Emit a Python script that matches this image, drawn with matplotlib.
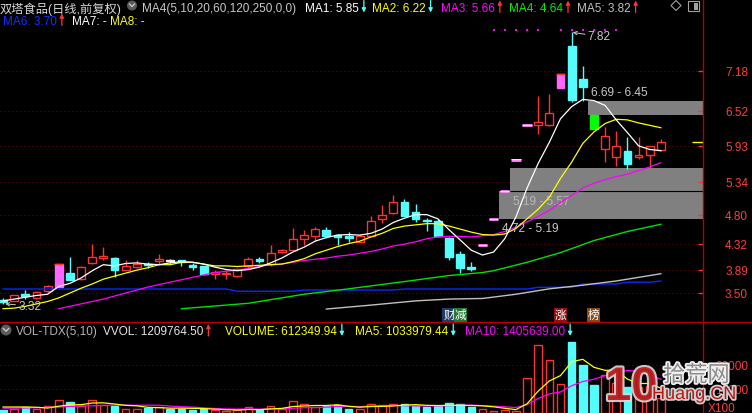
import numpy as np
import matplotlib
matplotlib.use("Agg")
import matplotlib.pyplot as plt
import matplotlib.transforms as mtrans
import matplotlib.patheffects as pe
from matplotlib.patches import Rectangle, Circle, Polygon

plt.rcParams['font.family'] = ['Liberation Sans', 'Noto Sans CJK SC', 'DejaVu Sans']

# ----------------------------- data -----------------------------
days = list(range(1, 61))
opens = [3.37, 3.37, 3.48, 3.42, 3.54, 3.60, 3.84, 3.73, 3.99, 4.08,
         4.08, 3.89, 3.93, 3.98, 4.03, 4.04, 4.04, 3.95, 3.94, 3.82,
         3.81, 3.79, 3.95, 4.06, 3.98, 4.19, 4.22, 4.39, 4.45, 4.55,
         4.45, 4.43, 4.35, 4.45, 4.72, 4.82, 5.01, 4.85, 4.71, 4.70,
         4.42, 4.15, 3.93, 4.29, 4.72, 5.19, 5.71, 6.28, 6.29, 6.28,
         6.90, 7.60, 7.05, 6.45, 5.89, 5.75, 5.85, 5.76, 5.78, 5.87]
highs = [3.42, 3.47, 3.55, 3.53, 3.63, 3.98, 4.09, 3.95, 4.32, 4.26,
         4.09, 4.05, 4.05, 4.02, 4.15, 4.07, 4.04, 4.00, 3.95, 3.88,
         3.88, 3.91, 4.10, 4.09, 4.30, 4.23, 4.57, 4.55, 4.60, 4.59,
         4.48, 4.51, 4.48, 4.77, 4.96, 5.12, 5.06, 4.97, 4.74, 4.73,
         4.43, 4.19, 4.02, 4.29, 4.72, 5.19, 5.71, 6.28, 6.76, 6.80,
         7.13, 7.82, 7.27, 6.45, 6.26, 6.18, 6.08, 6.08, 5.94, 6.05]
lows = [3.32, 3.36, 3.40, 3.40, 3.50, 3.60, 3.71, 3.72, 3.98, 4.04,
        3.77, 3.88, 3.91, 3.92, 3.98, 4.00, 3.95, 3.89, 3.80, 3.73,
        3.73, 3.77, 3.92, 4.00, 3.94, 4.17, 4.21, 4.30, 4.37, 4.41,
        4.29, 4.35, 4.35, 4.44, 4.66, 4.81, 4.77, 4.67, 4.53, 4.43,
        4.05, 3.84, 3.86, 4.29, 4.72, 5.19, 5.71, 6.28, 6.14, 6.27,
        6.90, 6.66, 6.69, 6.22, 5.68, 5.61, 5.56, 5.73, 5.58, 5.86]
closes = [3.36, 3.46, 3.46, 3.51, 3.62, 3.98, 3.72, 3.93, 4.10, 4.11,
          3.89, 3.94, 3.98, 3.97, 4.06, 4.04, 4.03, 3.94, 3.82, 3.84,
          3.83, 3.90, 4.06, 4.04, 4.17, 4.21, 4.40, 4.47, 4.56, 4.45,
          4.44, 4.42, 4.44, 4.70, 4.79, 5.01, 4.78, 4.72, 4.70, 4.45,
          4.10, 3.91, 3.90, 4.29, 4.72, 5.19, 5.71, 6.28, 6.34, 6.48,
          7.13, 6.70, 6.91, 6.22, 6.10, 5.94, 5.64, 5.78, 5.93, 6.01]

limit_up_days = [6, 51]
limit_down_days = [54]
one_price_days = [44, 45, 46, 47, 48]

# volume, in axis units (X100)
volumes = [1400, 1800, 2500, 1800, 2800, 5300, 4600, 2800, 5300, 3200,
           2800, 1800, 1800, 2200, 2500, 1800, 1800, 1400, 1800, 1100,
           800, 1100, 2500, 1400, 2800, 1800, 5000, 3600, 2500, 2800,
           3200, 1800, 1800, 3900, 3200, 3900, 3600, 2800, 2500, 2800,
           4200, 3600, 2500, 1800, 800, 1100, 800, 14700, 28200, 22000,
           12200, 29600, 19900, 11500, 15700, 12500, 11000, 11000, 11077, 6123]
vol_ma5 = [2500, 2500, 2500, 2400, 2060, 2840, 3400, 3460, 4160, 4240,
           3740, 3180, 2980, 2360, 2220, 2020, 2020, 1940, 1860, 1580,
           1380, 1240, 1460, 1380, 1720, 1920, 2700, 2920, 3140, 3140,
           3420, 2780, 2420, 2700, 2780, 2920, 3280, 3480, 3200, 3120,
           3180, 3180, 3120, 2980, 2580, 1960, 1400, 3840, 9120, 13360,
           15580, 21340, 22380, 19040, 17780, 17840, 14120, 12340, 12255, 10340]
vol_ma10 = [2000, 2000, 2100, 2200, 2300, 2500, 2700, 2900, 3000, 3150,
            3290, 3290, 3220, 3260, 3230, 2880, 2600, 2460, 2110, 1900,
            1700, 1630, 1700, 1620, 1650, 1650, 1970, 2190, 2260, 2430,
            2670, 2740, 2670, 2920, 2960, 3170, 3030, 2950, 2950, 2950,
            3050, 3230, 3300, 3090, 2850, 2570, 2290, 3480, 6050, 7970,
            8770, 11370, 13110, 14080, 15570, 16710, 17730, 17360, 15650, 14060]

nan = np.nan
ma1 = [3.37, 3.40, 3.43, 3.46, 3.48, 3.61, 3.66, 3.75, 3.87, 3.97,
       3.95, 3.99, 4.00, 3.98, 3.97, 4.00, 4.02, 4.01, 3.98, 3.93,
       3.89, 3.87, 3.89, 3.93, 4.00, 4.08, 4.18, 4.26, 4.36, 4.42,
       4.46, 4.47, 4.46, 4.49, 4.56, 4.67, 4.74, 4.80, 4.80, 4.73,
       4.55, 4.38, 4.21, 4.13, 4.18, 4.40, 4.76, 5.24, 5.65, 6.00,
       6.39, 6.59, 6.71, 6.69, 6.61, 6.37, 6.16, 5.94, 5.88, 5.86]
ma2 = [3.24, 3.25, 3.28, 3.32, 3.36, 3.42, 3.50, 3.58, 3.65, 3.73,
       3.78, 3.83, 3.88, 3.92, 3.97, 3.97, 4.01, 4.01, 3.98, 3.95,
       3.95, 3.94, 3.95, 3.96, 3.97, 3.98, 4.02, 4.07, 4.15, 4.21,
       4.27, 4.32, 4.36, 4.43, 4.49, 4.57, 4.61, 4.63, 4.65, 4.65,
       4.61, 4.56, 4.51, 4.47, 4.46, 4.48, 4.57, 4.73, 4.89, 5.09,
       5.40, 5.67, 5.98, 6.17, 6.31, 6.38, 6.37, 6.32, 6.28, 6.24]
ma3 = [nan, nan, nan, nan, nan, 3.24, 3.28, 3.32, 3.36, 3.40,
       3.45, 3.50, 3.55, 3.60, 3.64, 3.68, 3.72, 3.76, 3.80, 3.84,
       3.86, 3.88, 3.91, 3.94, 3.97, 3.98, 4.01, 4.04, 4.06, 4.08,
       4.11, 4.13, 4.16, 4.19, 4.23, 4.28, 4.31, 4.35, 4.40, 4.43,
       4.44, 4.44, 4.43, 4.45, 4.47, 4.52, 4.59, 4.68, 4.77, 4.87,
       5.00, 5.12, 5.24, 5.32, 5.38, 5.43, 5.47, 5.53, 5.59, 5.66]
ma4_days = [17, 23, 28, 32, 37, 41, 44, 45, 48, 51, 54, 57, 60]
ma4_vals = [3.24, 3.33, 3.48, 3.57, 3.69, 3.79, 3.84, 3.87, 4.01, 4.17, 4.37, 4.52, 4.64]
ma5_days = [30, 34, 38, 41, 44, 47, 50, 53, 56, 60]
ma5_vals = [3.235, 3.30, 3.37, 3.40, 3.41, 3.48, 3.57, 3.63, 3.70, 3.82]
ma6_days = [1, 21, 22, 27, 28, 36, 37, 48, 49, 52, 53, 56, 57, 59, 60]
ma6_vals = [3.567, 3.567, 3.53, 3.53, 3.55, 3.55, 3.567, 3.567, 3.595, 3.595,
            3.65, 3.65, 3.68, 3.68, 3.70]

price_ticks = [7.18, 6.52, 5.93, 5.34, 4.80, 4.32, 3.89, 3.50]
vol_ticks = [20000, 10000]
vol_tick_labels = ['20000', '10000']

gap_after = [45, 46, 53]
gap_lo = [4.72, 5.19, 6.45]
gap_hi = [5.19, 5.57, 6.69]
gap_text = ['4.72 - 5.19', '5.19 - 5.57', '6.69 - 6.45']

top_dot_days = [45, 46, 47, 48, 49, 51, 52, 53, 54, 55, 56]
event_days = [41, 42, 51, 54]
event_text = ['财', '减', '涨', '榜']
event_bg = ['#1F3D63', '#247A35', '#8C1212', '#8A4A16']

stock_title = '双塔食品(日线,前复权)'
header_row1 = [('MA4(5,10,20,60,120,250,0,0)', '#C8C8C8', 142, None),
               ('MA1: 5.85', '#FFFFFF', 305, 'down'),
               ('MA2: 6.22', '#FFFF00', 372, 'down'),
               ('MA3: 5.66', '#FF00FF', 441, 'up'),
               ('MA4: 4.64', '#00F000', 509, 'up'),
               ('MA5: 3.82', '#C0C0C0', 577, 'up')]
header_row2 = [('MA6: 3.70', '#1030FF', 3, 'up'),
               ('MA7: -', '#FFFFFF', 72, None),
               ('MA8: -', '#FFFF00', 110, None)]
vol_header = [('VOL-TDX(5,10)', '#B4B4B4', 16, None),
              ('VVOL: 1209764.50', '#E6E6E6', 103, 'up'),
              ('VOLUME: 612349.94', '#FFFF00', 225, 'down'),
              ('MA5: 1033979.44', '#FFFF00', 355, 'down'),
              ('MA10: 1405639.00', '#FF00FF', 465, 'down')]

# ----------------------------- styles -----------------------------
UP = '#FF3232'
DOWN = '#54FCFC'
LIMUP = '#FF66FF'
LIMDN = '#00FF00'
GRID = '#8C0000'
FRAME = '#B40000'

W, H = 752, 414
RIGHT, SPLIT = 703, 323

fig = plt.figure(figsize=(W / 100, H / 100), dpi=100, facecolor='black')
ax = fig.add_axes([0, (H - SPLIT) / H, RIGHT / W, SPLIT / H])
axv = fig.add_axes([0, 0, RIGHT / W, (H - SPLIT) / H])
ov = fig.add_axes([0, 0, 1, 1])
ov.set_xlim(0, W)
ov.set_ylim(H, 0)
ov.set_axis_off()
ov.set_zorder(10)

for a in (ax, axv):
    a.set_facecolor('black')
    a.set_axis_off()
    a.set_xlim(-0.27, 62.78)
ax.set_ylim(3.020, 8.374)
axv.set_ylim(0, 37917)

x = np.array(days) - 1

# grid
for p in price_ticks:
    ax.axhline(p, color=GRID, lw=0.72, ls=(0, (1, 3)), zorder=0.5)
for v in vol_ticks:
    axv.axhline(v, color=GRID, lw=0.72, ls=(0, (1, 3)), zorder=0.5)

# gap boxes
for n, lo, hi in zip(gap_after, gap_lo, gap_hi):
    x0 = n - 1 + 0.45
    ax.add_patch(Rectangle((x0, lo), 62.78 - x0, hi - lo, facecolor='#808080',
                           edgecolor='none', zorder=1))
ax.hlines(gap_lo[1], gap_after[1] - 1 + 0.45, 62.78, colors='black', lw=0.8, zorder=1.1)
ax.annotate(gap_text[0], xy=(gap_after[0] - 1 + 0.45, gap_lo[0]), xytext=(3, -9),
            textcoords='offset pixels', va='center', ha='left', color='#C8C8C8',
            fontsize=8.6, zorder=6)
ax.annotate(gap_text[1], xy=(gap_after[1] - 1 + 0.45, gap_lo[1]), xytext=(3, -10),
            textcoords='offset pixels', va='center', ha='left', color='#B8B8B8',
            fontsize=8.6, zorder=1.5)
ax.annotate(gap_text[2], xy=(gap_after[2] - 1 + 0.45, gap_hi[2]), xytext=(3, 9),
            textcoords='offset pixels', va='center', ha='left', color='#C8C8C8',
            fontsize=8.6, zorder=6)

# candles
BW = 0.70
for k in range(len(days)):
    d = days[k]
    xi = x[k]
    o, h, l, c = opens[k], highs[k], lows[k], closes[k]
    if d in one_price_days:
        ax.hlines(c, xi - 0.42, xi + 0.42, colors='#FF88FF', lw=2.0, zorder=4)
        ax.hlines(c + 0.008, xi - 0.42, xi + 0.42, colors='#FFE0FF', lw=0.7, zorder=4.1)
        continue
    if d in limit_up_days:
        col, fc = LIMUP, LIMUP
    elif d in limit_down_days:
        col, fc = LIMDN, LIMDN
    elif c > o:
        col, fc = UP, 'black'
    elif c < o:
        col, fc = DOWN, DOWN
    else:
        col, fc = '#F0F0F0', '#F0F0F0'
    ax.vlines(xi, l, h, colors=col, lw=1.0, zorder=3.5)
    hgt = abs(c - o)
    mid = (c + o) / 2
    if hgt < 0.025:
        hgt = 0.025
    ax.bar(xi, hgt, bottom=mid - hgt / 2, width=BW, facecolor=fc, edgecolor=col,
           lw=1.0, zorder=4)
    if d in limit_up_days:
        ax.hlines(h, xi - BW / 2 - 0.05, xi + BW / 2 + 0.05, colors=UP, lw=1.0, zorder=4.2)

# MA lines
ax.plot(np.array(ma6_days) - 1, ma6_vals, color='#0A28FF', lw=1.0, zorder=5)
ax.plot(np.array(ma5_days) - 1, ma5_vals, color='#C0C0C0', lw=1.0, zorder=5)
ax.plot(np.array(ma4_days) - 1, ma4_vals, color='#00E000', lw=1.0, zorder=5)
ax.plot(x, ma3, color='#FF00FF', lw=0.9, zorder=5)
ax.plot(x, ma2, color='#FFFF00', lw=0.9, zorder=5)
ax.plot(x, ma1, color='#FFFFFF', lw=0.9, zorder=5)

# top dots
ax.scatter(np.array(top_dot_days) - 1, [0.904] * len(top_dot_days), marker='s', s=2.2,
           color='#FF00FF', transform=mtrans.blended_transform_factory(ax.transData, ax.transAxes),
           zorder=6, linewidths=0)

# high / low annotations
imax = int(np.argmax(highs))
imin = int(np.argmin(lows))
ax.annotate(f'{highs[imax]:.2f}', xy=(x[imax] + 0.1, highs[imax]), xytext=(15, -4),
            textcoords='offset pixels', ha='left', va='center', color='#C8C8C8', fontsize=8.6,
            arrowprops=dict(arrowstyle='->', color='#C8C8C8', lw=0.7, shrinkA=0, shrinkB=0,
                            mutation_scale=6), zorder=6)
ax.annotate(f'{lows[imin]:.2f}', xy=(x[imin] + 0.2, lows[imin]), xytext=(13, -2),
            textcoords='offset pixels', ha='left', va='center', color='#C8C8C8', fontsize=8.6,
            arrowprops=dict(arrowstyle='->', color='#C8C8C8', lw=0.7, shrinkA=0, shrinkB=0,
                            mutation_scale=6), zorder=6)

# event tags
tr_ev = mtrans.blended_transform_factory(ax.transData, ax.transAxes)
for d, t, bg in zip(event_days, event_text, event_bg):
    ax.text(d - 1, 0.022, t, transform=tr_ev, ha='center', va='center', color='white',
            fontsize=8.4, family=['Noto Sans CJK SC', 'DejaVu Sans'], zorder=7,
            bbox=dict(boxstyle='square,pad=0.06', fc=bg, ec='none'))

# current price marker
ax.hlines(closes[-1], 0.984, 1.0, transform=ax.get_yaxis_transform(), colors='#FFFF00', lw=1.0,
          zorder=6)

# volume bars
for k in range(len(days)):
    o, c = opens[k], closes[k]
    prev = closes[k - 1] if k > 0 else o
    up = c > o or (c == o and c >= prev)
    if up:
        axv.bar(x[k], volumes[k], width=0.68, facecolor='black', edgecolor=UP, lw=1.0, zorder=3)
    else:
        axv.bar(x[k], volumes[k], width=0.68, facecolor=DOWN, edgecolor=DOWN, lw=1.0, zorder=3)
axv.plot(x, vol_ma10, color='#FF00FF', lw=0.9, zorder=4)
axv.plot(x, vol_ma5, color='#FFFF00', lw=0.9, zorder=4)

# right axis ticks and labels
shift = mtrans.ScaledTranslation(0, -4 / 100, fig.dpi_scale_trans)
tr_p = mtrans.blended_transform_factory(ov.transData, ax.transData) + shift
tr_v = mtrans.blended_transform_factory(ov.transData, axv.transData) + shift
for p in price_ticks:
    ov.text(748, p, f'{p:.2f}', transform=tr_p, ha='right', va='baseline', color='#FF3C3C',
            fontsize=8.5)
ax.hlines(price_ticks, 0.9929, 1.0, transform=ax.get_yaxis_transform(), colors=UP, lw=1.0,
          zorder=6)
for v, lab in zip(vol_ticks, vol_tick_labels):
    ov.text(748, v, lab, transform=tr_v, ha='right', va='baseline', color='#FF3C3C', fontsize=8.5)
axv.hlines(vol_ticks, 0.9929, 1.0, transform=axv.get_yaxis_transform(), colors=UP, lw=1.0,
           zorder=6)
ov.text(708, 412, 'X100', ha='left', va='baseline', color='#FF3C3C', fontsize=8.5)

# frame lines
ov.plot([0, W], [SPLIT, SPLIT], color=FRAME, lw=1.0)
ov.plot([RIGHT, RIGHT], [0, H], color=FRAME, lw=1.0)

renderer = fig.canvas.get_renderer()


def arrow(xc, y0, direction, color):
    if direction == 'down':
        ov.annotate('', xy=(xc, y0 + 12), xytext=(xc, y0),
                    arrowprops=dict(arrowstyle='-|>', color=color, lw=0.9, mutation_scale=6,
                                    shrinkA=0, shrinkB=0))
    else:
        ov.annotate('', xy=(xc, y0), xytext=(xc, y0 + 12),
                    arrowprops=dict(arrowstyle='-|>', color=color, lw=0.9, mutation_scale=6,
                                    shrinkA=0, shrinkB=0))


def header(items, base, arrow_top):
    for s, col, x0, arr in items:
        t = ov.text(x0, base, s, color=col, fontsize=8.5, ha='left', va='baseline')
        if arr is not None:
            bb = t.get_window_extent(renderer=renderer)
            xr = ov.transData.inverted().transform((bb.x1, 0))[0]
            arrow(xr + 5, arrow_top, arr, DOWN if arr == 'down' else UP)


ov.text(0, 12.5, stock_title, color='#D8D8D8', fontsize=8.8, ha='left', va='baseline',
        family=['Liberation Sans', 'Noto Sans CJK SC'])
ov.add_patch(Circle((132, 6.5), 5, fc='#5A5A5A', ec='none'))
ov.plot([129.5, 132, 134.5], [5.0, 7.6, 5.0], color='#D0D0D0', lw=0.9)
header(header_row1, 12, 1.5)
header(header_row2, 25.3, 14.5)
ov.add_patch(Circle((6, 331), 5.5, fc='#5A5A5A', ec='none'))
ov.plot([3.3, 6, 8.7], [329.5, 332.3, 329.5], color='#D0D0D0', lw=0.9)
header(vol_header, 335.5, 325)

# top-right icons
ov.add_patch(Polygon([(676, 1.5), (681, 6.5), (676, 11.5), (671, 6.5)], closed=True, fill=False,
                     ec='#A0A0A0', lw=0.8))
ov.add_patch(Rectangle((688, 2), 11, 10, fill=False, ec='#A0A0A0', lw=0.8))
ov.add_patch(Rectangle((693.5, 3.5), 4, 7, fc='#A0A0A0', ec='none'))

# watermark (as in the reference screenshot)
ov.text(605, 401, '10', fontsize=34, fontweight='bold', color='#B81818', ha='left',
        va='baseline', alpha=0.92,
        path_effects=[pe.withStroke(linewidth=3, foreground='#D8D8D8')])
ov.text(663, 382.5, '拾荒网', fontsize=16, color='#8A8A8A', ha='left', va='baseline',
        family=['Noto Sans CJK SC'],
        path_effects=[pe.withStroke(linewidth=2.5, foreground='#F0F0F0')])
ov.text(652, 400, 'Huang.CN', fontsize=13, color='#B81818', ha='left', va='baseline',
        path_effects=[pe.withStroke(linewidth=2.5, foreground='#D0D0D0')])

fig.savefig('out.png', dpi=100, facecolor='black')
